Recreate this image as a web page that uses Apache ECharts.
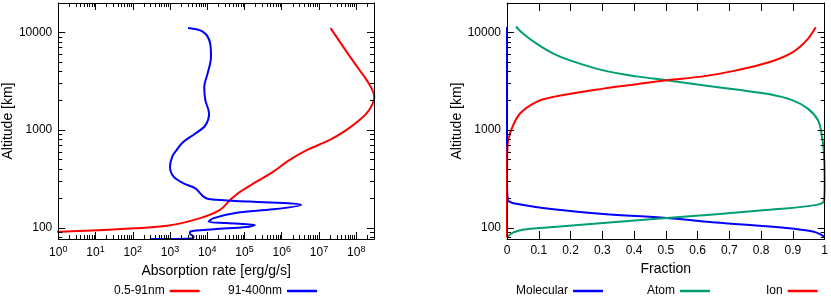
<!DOCTYPE html>
<html><head><meta charset="utf-8">
<script src="https://cdn.jsdelivr.net/npm/echarts@6/dist/echarts.min.js"></script>
<style>html,body{margin:0;padding:0;background:#fff}#c{width:831px;height:301px}</style>
</head><body><div id="c"></div>
<script>
// ---- Left panel: absorption rate [erg/g/s] vs altitude [km]
const xuvRate = [2.04e7, 5.2e7, 1.07e8, 2.2e8, 3.05e8, 2.2e8, 1.2e8, 5.4e7, 1.9e7, 4.7e6, 1.6e6, 5.8e5, 2.1e5, 7.6e4, 4.1e4, 2.2e4, 6.5e3, 8.3e2, 39, 1, 0.5];
const xuvAlt  = [11070, 6550, 4430, 2990, 2190, 1600, 1260, 1000, 790, 625, 494, 375, 297, 234, 193, 153, 126, 105, 97, 91.5, 91];
const fuvRate = [3.05e3, 7.9e3, 1.2e4, 1.26e4, 1.02e4, 8.3e3, 8.9e3, 1.12e4, 8.9e3, 4.8e3, 2.3e3, 1.5e3, 1.15e3, 1.0e3, 1.25e3, 2.3e3, 4.8e3, 7.9e3, 1.2e4, 1.4e5, 3.3e6, 5.9e5, 6.2e4, 1.5e4, 1.1e4, 3.3e4, 1.9e5, 1.15e5, 1.5e4, 3.5e3, 3.4e3, 4.3e3, 4.0e3, 3.0e2];
const fuvAlt  = [11070, 10070, 7680, 5600, 3790, 2770, 2020, 1480, 1120, 925, 760, 625, 535, 423, 334, 286, 254, 209, 196, 186, 172, 155, 143, 126, 116, 112, 107, 102, 97, 92, 87, 82, 78, 77];
// ---- Right panel: fraction vs altitude [km]
const molFrac = [0, 0, 0, 0.003, 0.01, 0.02, 0.146, 0.303, 0.502, 0.67, 0.88, 0.963, 0.99, 1.0];
const molAlt  = [11300, 1000, 300, 190, 185, 179, 155, 139, 126, 113, 100, 92, 85, 80];
const atomFrac = [0.028, 0.051, 0.093, 0.146, 0.198, 0.303, 0.408, 0.502, 0.617, 0.722, 0.827, 0.90, 0.947, 0.979, 0.99, 0.997, 1.0, 0.998, 0.974, 0.827, 0.67, 0.502, 0.303, 0.146, 0.062, 0.02, 0.0];
const atomAlt  = [11500, 9700, 7680, 6070, 5180, 4090, 3550, 3240, 2880, 2600, 2330, 2020, 1660, 1265, 925, 625, 300, 190, 172, 153, 139, 126, 112, 102, 97, 90, 80];
const ionFrac = [0, 0, 0.001, 0.004, 0.015, 0.041, 0.093, 0.146, 0.303, 0.408, 0.502, 0.617, 0.722, 0.827, 0.9, 0.943, 0.972];
const ionAlt  = [80, 300, 625, 790, 1040, 1480, 1950, 2190, 2660, 2950, 3240, 3550, 4090, 4980, 6300, 8280, 11300];
// ---- Tick values
const rateMajor = [1, 10, 100, 1e3, 1e4, 1e5, 1e6, 1e7, 1e8];
const altMajor = [100, 1000, 10000];
const fracTicks = [0, 0.1, 0.2, 0.3, 0.4, 0.5, 0.6, 0.7, 0.8, 0.9, 1];

const RATE_MIN = 1, RATE_MAX = 3e8, ALT_MIN = 77, ALT_MAX = 20000;
function minorsOf(majors, lo, hi) {
  const out = [];
  const first = majors[0] / 10;
  for (let d = first; d <= hi; d *= 10) {
    for (let k = 2; k <= 9; k++) { const v = k * d; if (v > lo && v < hi) out.push(+v.toPrecision(3)); }
  }
  return out;
}
const rateMinor = minorsOf(rateMajor, RATE_MIN, RATE_MAX);
const altMinor = minorsOf(altMajor, ALT_MIN, ALT_MAX);

const FONT = 'Liberation Sans';
const MAJ = 7, MIN = 4;
const zip = (a, b) => a.map((v, i) => [v, b[i]]);

function axis(o) {
  return {
    gridIndex: o.grid, type: o.type, position: o.pos, min: o.min, max: o.max,
    axisLine: { show: !!o.line, onZero: false, lineStyle: { color: '#000', width: 1 } },
    axisTick: { show: true, inside: true, length: o.len, customValues: o.ticks, lineStyle: { color: '#000', width: 1 } },
    axisLabel: o.label ? Object.assign({ show: true, customValues: o.ticks, color: '#000', fontFamily: FONT, fontSize: 12, margin: 6 }, o.label) : { show: false },
    splitLine: { show: false },
    name: o.name, nameLocation: 'middle', nameGap: o.nameGap,
    nameTextStyle: { color: '#000', fontFamily: FONT, fontSize: 14 },
    silent: true, z: 5
  };
}
const supLabel = {
  formatter: v => '{b|10}{s|' + Math.round(Math.log10(v)) + '}',
  rich: { b: { fontSize: 12, fontFamily: FONT, color: '#000' }, s: { fontSize: 9, fontFamily: FONT, color: '#000', padding: [0, 0, 7, 0] } }
};
const plainLabel = { formatter: v => String(Math.round(v)) };

const xAxes = [
  axis({ grid: 0, type: 'log', pos: 'bottom', min: RATE_MIN, max: RATE_MAX, line: true, len: MAJ, ticks: rateMajor, label: supLabel, name: 'Absorption rate [erg/g/s]', nameGap: 20 }),
  axis({ grid: 0, type: 'log', pos: 'bottom', min: RATE_MIN, max: RATE_MAX, len: MIN, ticks: rateMinor }),
  axis({ grid: 0, type: 'log', pos: 'top', min: RATE_MIN, max: RATE_MAX, line: true, len: MAJ, ticks: rateMajor }),
  axis({ grid: 0, type: 'log', pos: 'top', min: RATE_MIN, max: RATE_MAX, len: MIN, ticks: rateMinor }),
  axis({ grid: 1, type: 'value', pos: 'bottom', min: 0, max: 1, line: true, len: 8, ticks: fracTicks, label: { formatter: v => String(+v.toFixed(1)) }, name: 'Fraction', nameGap: 22 }),
  axis({ grid: 1, type: 'value', pos: 'top', min: 0, max: 1, line: true, len: 8, ticks: fracTicks })
];
const yAxes = [
  axis({ grid: 0, type: 'log', pos: 'left', min: ALT_MIN, max: ALT_MAX, line: true, len: MAJ, ticks: altMajor, label: plainLabel, name: 'Altitude [km]', nameGap: 39 }),
  axis({ grid: 0, type: 'log', pos: 'left', min: ALT_MIN, max: ALT_MAX, len: MIN, ticks: altMinor }),
  axis({ grid: 0, type: 'log', pos: 'right', min: ALT_MIN, max: ALT_MAX, line: true, len: MAJ, ticks: altMajor }),
  axis({ grid: 0, type: 'log', pos: 'right', min: ALT_MIN, max: ALT_MAX, len: MIN, ticks: altMinor }),
  axis({ grid: 1, type: 'log', pos: 'left', min: ALT_MIN, max: ALT_MAX, line: true, len: MAJ, ticks: altMajor, label: plainLabel, name: 'Altitude [km]', nameGap: 41 }),
  axis({ grid: 1, type: 'log', pos: 'left', min: ALT_MIN, max: ALT_MAX, len: MIN, ticks: altMinor }),
  axis({ grid: 1, type: 'log', pos: 'right', min: ALT_MIN, max: ALT_MAX, line: true, len: MAJ, ticks: altMajor }),
  axis({ grid: 1, type: 'log', pos: 'right', min: ALT_MIN, max: ALT_MAX, len: MIN, ticks: altMinor })
];

function line(name, data, color, xi, yi) {
  return { name, type: 'line', data, xAxisIndex: xi, yAxisIndex: yi, showSymbol: false, symbol: 'none',
    smooth: 0.35, clip: true, lineStyle: { color, width: 2 }, itemStyle: { color }, z: 3, silent: true };
}
const RED = '#ff0000', BLUE = '#0000ff', GREEN = '#009e73';
const legendBase = { orient: 'horizontal', align: 'right', icon: 'rect', itemWidth: 30, itemHeight: 2.5, selectedMode: false,
  textStyle: { color: '#000', fontFamily: FONT, fontSize: 12 }, top: 285, padding: 0 };

const option = {
  animation: false,
  backgroundColor: '#fff',
  grid: [
    { left: 57, top: 3, width: 317, height: 236 },
    { left: 507, top: 3, width: 318, height: 236 }
  ],
  xAxis: xAxes,
  yAxis: yAxes,
  legend: [
    Object.assign({ data: ['0.5-91nm'], left: 114 }, legendBase),
    Object.assign({ data: ['91-400nm'], left: 228 }, legendBase),
    Object.assign({ data: ['Molecular'], left: 516 }, legendBase),
    Object.assign({ data: ['Atom'], left: 647 }, legendBase),
    Object.assign({ data: ['Ion'], left: 766 }, legendBase)
  ],
  series: [
    line('0.5-91nm', zip(xuvRate, xuvAlt), RED, 0, 0),
    line('91-400nm', zip(fuvRate, fuvAlt), BLUE, 0, 0),
    line('Molecular', zip(molFrac, molAlt), BLUE, 4, 4),
    line('Atom', zip(atomFrac, atomAlt), GREEN, 4, 4),
    line('Ion', zip(ionFrac, ionAlt), RED, 4, 4)
  ]
};
const chart = echarts.init(document.getElementById('c'), null, { renderer: 'canvas' });
chart.setOption(option);
</script>
</body></html>
